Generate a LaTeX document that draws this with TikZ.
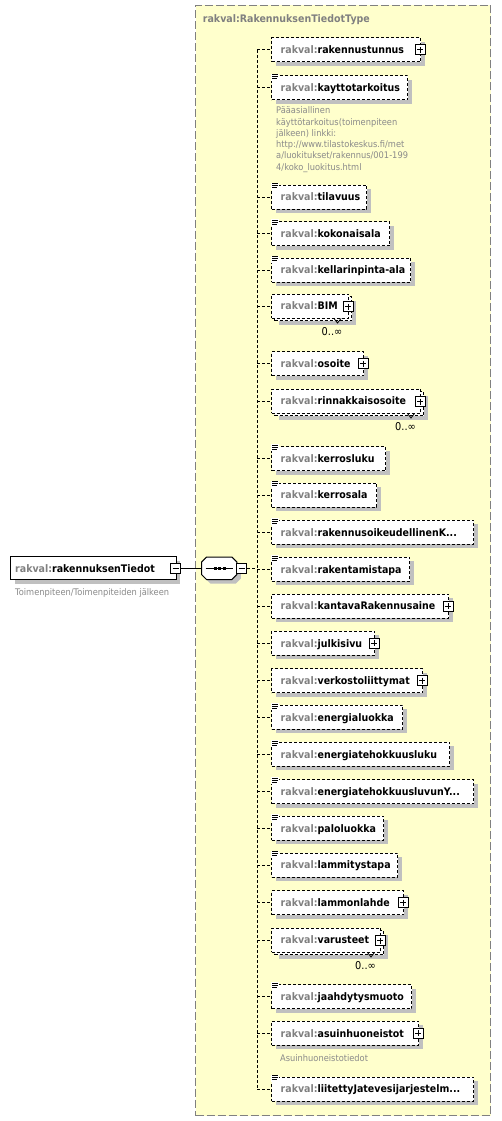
\documentclass[tikz,border=0pt]{standalone}
\usepackage{fontspec}
\setmainfont{DejaVu Sans}[FakeStretch=0.91]
\usetikzlibrary{shadows}
\definecolor{ylw}{HTML}{FFFFCC}
\definecolor{rkgray}{HTML}{808080}
\definecolor{shd}{HTML}{C0C0C0}
\definecolor{anngray}{HTML}{8A8A8A}
\newcommand\rk{\textcolor{rkgray}{rakval:}}
\tikzset{
  lblfont/.style={font=\fontsize{10.4}{12}\selectfont\bfseries},
  annfont/.style={font=\fontsize{9.1}{11.3}\selectfont},
  typebox/.style={draw=rkgray, fill=ylw, dash pattern=on 8pt off 3pt, line width=1pt, inner sep=0pt, anchor=north west},
  typetitle/.style={lblfont, text=rkgray, inner sep=0pt, anchor=base west},
  boxbase/.style={draw=black, fill=white, dash pattern=on 3pt off 2pt, line width=1pt, rectangle, anchor=west, minimum height=24pt, inner sep=0pt},
  elembox/.style={boxbase, general shadow={fill=shd, shadow xshift=4pt, shadow yshift=-4pt}},
  rootbox/.style={draw=black, fill=white, solid, line width=1pt, rectangle, anchor=west, minimum height=23.3pt, inner sep=0pt, general shadow={fill=shd, shadow xshift=4pt, shadow yshift=-4pt}},
  eltext/.style={lblfont, inner sep=0pt, anchor=base west},
  anntext/.style={annfont, text=anngray, inner sep=0pt, align=left},
  occ/.style={font=\fontsize{10.8}{12}\selectfont, inner sep=0pt},
  conn/.style={draw=black, line width=1pt, dash pattern=on 3pt off 2pt},
  pm/.style={draw=black, solid, fill=white, minimum size=10pt, inner sep=0pt, line width=1pt},
  plusicon/.style={pm, path picture={
      \draw[line width=1pt] ([xshift=2pt]path picture bounding box.west) -- ([xshift=-2pt]path picture bounding box.east);
      \draw[line width=1pt] ([yshift=-2pt]path picture bounding box.north) -- ([yshift=2pt]path picture bounding box.south);}},
  minusicon/.style={pm, path picture={
      \draw[line width=1pt] ([xshift=2pt]path picture bounding box.west) -- ([xshift=-2pt]path picture bounding box.east);}},
  eqicon/.style={fill=white, draw=none, minimum width=8pt, minimum height=7pt, inner sep=0pt, anchor=north west,
    path picture={
      \draw[line width=1pt] ([shift={(1pt,-1pt)}]path picture bounding box.north west) -- ++(6pt,0pt);
      \draw[line width=1pt] ([shift={(1pt,-3pt)}]path picture bounding box.north west) -- ++(6pt,0pt);
      \draw[line width=1pt] ([shift={(1pt,-5pt)}]path picture bounding box.north west) -- ++(5pt,0pt);}},
}
% simple-content element: id, y, right, name
\newcommand\elemE[4]{%
  \coordinate (#1c) at (257,#2);
  \node[elembox, minimum width={(#3-271)*1pt}] (#1) at (271,#2) {};
  \node[eltext] (#1t) at (280.5,#2+3.8) {\rk#4};
  \node[eqicon] (#1i) at ([yshift=2pt]#1.north west) {};
  \draw[conn] (#1c) -- (#1.west);
}
% complex element with plus: id, y, right, name
\newcommand\elemP[4]{%
  \coordinate (#1c) at (257,#2);
  \node[elembox, minimum width={(#3-271)*1pt}] (#1) at (271,#2) {};
  \node[eltext] (#1t) at (280.5,#2+3.8) {\rk#4};
  \node[plusicon] (#1p) at (#3,#2) {};
  \draw[conn] (#1c) -- (#1.west);
}
% multiple element with plus: id, y, right(front), name, x of occurrence label
\newcommand\elemM[5]{%
  \coordinate (#1c) at (257,#2);
  \node[elembox, minimum width={(#3-271)*1pt}] (#1b) at (274,#2+2.5) {};
  \node[boxbase, minimum width={(#3-271)*1pt}] (#1) at (271,#2) {};
  \node[eltext] (#1t) at (280.5,#2+3.8) {\rk#4};
  \node[plusicon] (#1p) at (#3,#2+0.5) {};
  \node[occ] (#1o) at (#5,#2+26) {0..∞};
  \draw[black, line width=0.8pt] (#5+2,#2+12.5) -- (#5+5.5,#2+17) -- (#5+9,#2+12.5);
  \draw[conn] (#1c) -- (#1.west);
}
\begin{document}
\begin{tikzpicture}[x=1pt,y=-1pt]
\useasboundingbox (0,0) rectangle (501,1121);
\fill[white] (0,0) rectangle (501,1121);
% type box
\node[typebox, minimum width=295pt, minimum height=1110pt] (type) at (195,5) {};
\node[typetitle] (typet) at (202.7,22.5) {rakval:RakennuksenTiedotType};

% root element
\node[rootbox, minimum width=165.7pt] (root) at (10,568.3) {};
\node[eltext] (roott) at (15,572.1) {\rk rakennuksenTiedot};
\node[minusicon] (rootm) at (175.5,568.3) {};
\node[anntext, anchor=base west] (rootann) at (15,595.5) {Toimenpiteen/Toimenpiteiden jälkeen};

% sequence compositor
\node[minimum width=35pt, minimum height=22pt, inner sep=0pt] (seq) at (219.2,568.3) {};
\draw[draw=black, fill=white, line width=1pt, general shadow={fill=shd, shadow xshift=4pt, shadow yshift=-4pt}]
  ([xshift=5pt]seq.north west) -- ([xshift=-5pt]seq.north east) -- ([yshift=-5pt]seq.north east)
  -- ([yshift=5pt]seq.south east) -- ([xshift=-5pt]seq.south east) -- ([xshift=5pt]seq.south west)
  -- ([yshift=5pt]seq.south west) -- ([yshift=-5pt]seq.north west) -- cycle;
\draw[black, line width=1pt] ([xshift=4pt]seq.west) -- ([xshift=-4pt]seq.east);
\node[fill=black, minimum size=3pt, inner sep=0pt] (dot1) at (215,568.3) {};
\node[fill=black, minimum size=3pt, inner sep=0pt] (dot2) at (219.5,568.3) {};
\node[fill=black, minimum size=3pt, inner sep=0pt] (dot3) at (224,568.3) {};
\node[minusicon] (seqm) at (241.7,568.3) {};
\draw[black, line width=1pt] (rootm.east) -- (seq.west);
\coordinate (seqc) at (257,568.3);
\draw[conn] (seqm.east) -- (seqc);

% elements
\elemP{e01}{50}{420}{rakennustunnus}
\elemE{e02}{88}{407}{kayttotarkoitus}
\node[anntext, anchor=north west] (e02ann) at (276,106.6) {Pääasiallinen\\käyttötarkoitus(toimenpiteen\\jälkeen) linkki:\\http://www.tilastokeskus.fi/met\\a/luokitukset/rakennus/001-199\\4/koko\_luokitus.html};
\elemE{e03}{197}{366}{tilavuus}
\elemE{e04}{233.5}{389}{kokonaisala}
\elemE{e05}{270}{410}{kellarinpinta-ala}
\elemM{e06}{306}{348}{BIM}{332}
\elemP{e07}{363.5}{363}{osoite}
\elemM{e08}{401}{420}{rinnakkaisosoite}{405.5}
\elemE{e09}{458.5}{385}{kerrosluku}
\elemE{e10}{495}{376}{kerrosala}
\elemE{e11}{532.3}{473}{rakennusoikeudellinenK...}
\elemE{e12}{569.3}{409}{rakentamistapa}
\elemP{e13}{606}{448}{kantavaRakennusaine}
\elemP{e14}{643.3}{374}{julkisivu}
\elemP{e15}{680.7}{422}{verkostoliittymat}
\elemE{e16}{717.3}{402}{energialuokka}
\elemE{e17}{754.3}{449}{energiatehokkuusluku}
\elemE{e18}{791.7}{473}{energiatehokkuusluvunY...}
\elemE{e19}{828.3}{383}{paloluokka}
\elemE{e20}{865}{397}{lammitystapa}
\elemP{e21}{902.7}{403}{lammonlahde}
\elemM{e22}{940}{380}{varusteet}{365.5}
\elemE{e23}{996.7}{411}{jaahdytysmuoto}
\elemP{e24}{1033.3}{418}{asuinhuoneistot}
\node[anntext, anchor=base west] (e24ann) at (280,1061) {Asuinhuoneistotiedot};
\elemE{e25}{1089}{473}{liitettyJatevesijarjestelm...}

% vertical spine
\draw[conn] (e01c) -- (e25c);
\end{tikzpicture}
\end{document}
